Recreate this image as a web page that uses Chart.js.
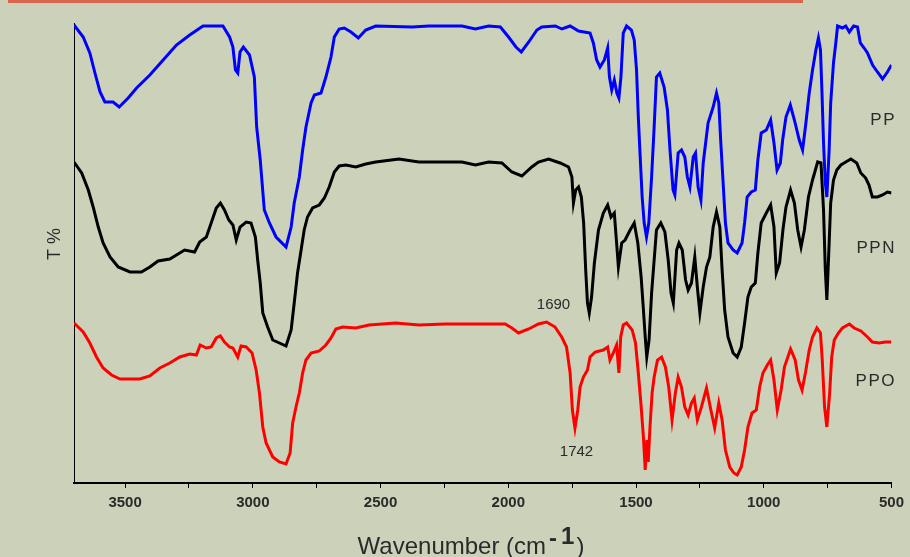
<!DOCTYPE html>
<html>
<head>
<meta charset="utf-8">
<script src="https://cdn.jsdelivr.net/npm/chart.js@4.4.1/dist/chart.umd.min.js"></script>
<style>
  html, body { margin: 0; padding: 0; background: #ccd1b9; }
  #wrap { position: relative; width: 910px; height: 557px; }
  #topbar { position: absolute; left: 8px; top: 0; width: 795px; height: 3px; background: #d9664c; }
  canvas { position: absolute; left: 0; top: 0; }
</style>
</head>
<body>
<div id="wrap">
  <canvas id="c" width="910" height="557"></canvas>
  <div id="topbar"></div>
</div>
<script>
// Tick labels on the wavenumber axis (minor ticks halfway between)
const majorTicks = [3500, 3000, 2500, 2000, 1500, 1000, 500];
const minorTicks = [3250, 2750, 2250, 1750, 1250, 750];
const seriesNames = ["PP", "PPN", "PPO"];
const peakLabels = ["1690", "1742"];

// PP (blue)
const ppWn = [3700,3664,3638,3618,3598,3579,3547,3523,3488,3455,3403,3351,3299,3247,3195,3117,3091,3078,3068,3059,3050,3037,3013,2994,2985,2971,2955,2935,2909,2870,2850,2838,2818,2805,2792,2772,2759,2733,2714,2694,2681,2662,2642,2616,2587,2558,2519,2376,2311,2181,2129,2077,2031,1999,1970,1949,1920,1888,1869,1816,1790,1758,1725,1680,1667,1654,1641,1624,1611,1604,1595,1585,1575,1567,1559,1550,1537,1518,1507,1498,1491,1485,1476,1468,1459,1450,1439,1429,1420,1407,1390,1377,1367,1355,1348,1335,1322,1309,1299,1289,1276,1267,1257,1246,1237,1218,1198,1185,1176,1168,1159,1150,1140,1120,1104,1085,1075,1065,1049,1033,1023,1010,990,973,960,948,935,926,913,896,880,861,848,835,822,809,796,786,778,772,766,759,753,744,738,727,718,711,692,679,665,648,633,622,607,594,574,555,535,516,500];
const ppT = [45.8,44.6,43.0,41.0,39.1,38.1,38.1,37.6,38.5,39.5,40.8,42.3,43.8,44.8,45.7,45.7,44.6,43.6,41.3,41.0,43.1,43.6,42.8,40.6,35.6,32.3,27.3,26.0,24.6,23.6,25.6,28.0,30.6,33.3,35.6,38.0,38.8,39.0,40.6,42.6,44.6,45.4,45.5,45.1,44.5,45.3,45.7,45.6,45.7,45.7,45.4,45.7,45.6,44.6,43.6,43.1,44.1,45.3,45.6,45.7,45.4,45.7,45.2,45.0,44.0,42.3,41.6,42.3,43.5,40.6,39.3,40.3,39.0,38.5,40.6,45.0,45.7,45.3,44.3,41.3,36.6,33.3,28.6,26.0,24.6,26.0,30.6,35.6,40.6,41.0,39.6,37.3,33.3,29.3,28.8,33.0,33.3,32.6,30.6,29.6,32.6,33.0,29.6,28.3,32.0,36.0,37.6,39.0,38.0,34.0,30.0,26.0,24.0,23.3,23.0,24.0,26.0,28.6,29.1,29.3,32.3,35.0,35.3,36.3,34.0,31.3,32.0,34.3,36.6,37.8,36.3,34.3,33.3,36.0,39.0,41.3,43.3,44.5,43.3,39.0,34.0,30.0,28.6,33.3,38.0,42.0,44.0,45.7,45.5,45.7,45.1,45.7,45.6,44.0,43.5,43.0,41.8,41.1,40.4,41.1,41.8];

// PPN (black)
const ppnWn = [3700,3670,3644,3625,3605,3586,3559,3527,3481,3436,3403,3371,3325,3299,3267,3228,3208,3182,3163,3143,3127,3111,3094,3078,3065,3050,3026,3007,2990,2981,2971,2961,2942,2922,2896,2870,2850,2838,2825,2811,2799,2786,2766,2740,2720,2701,2681,2662,2636,2597,2558,2519,2428,2350,2181,2129,2077,2025,1986,1947,1908,1882,1842,1797,1764,1751,1745,1736,1725,1714,1705,1697,1690,1683,1674,1663,1647,1628,1611,1598,1585,1576,1569,1556,1543,1523,1507,1493,1480,1471,1464,1458,1449,1439,1426,1420,1403,1387,1374,1363,1354,1341,1332,1319,1306,1296,1283,1270,1260,1250,1237,1224,1211,1198,1185,1172,1163,1153,1140,1120,1104,1088,1075,1062,1049,1033,1023,1010,990,973,960,951,938,925,913,895,880,867,854,841,825,809,789,776,766,759,753,744,738,727,714,698,679,659,636,620,601,588,575,555,535,516,500];
const ppnT = [32.1,31.0,29.3,27.6,25.6,24.0,22.6,21.6,21.1,21.1,21.6,22.2,22.4,22.8,23.3,23.1,24.1,24.6,26.0,27.5,28.0,27.3,26.3,25.8,24.3,25.6,26.1,26.0,24.6,22.3,20.0,17.0,15.6,14.3,14.0,13.7,15.3,18.0,21.0,23.3,25.3,26.6,27.5,27.8,28.5,29.6,31.1,31.7,31.8,31.6,31.9,32.1,32.4,32.1,32.1,31.8,32.1,32.0,31.1,30.7,31.6,32.1,32.4,32.0,31.6,30.6,28.0,29.3,29.6,28.6,26.0,21.3,18.0,17.0,18.6,22.0,25.3,27.0,27.8,26.6,27.0,24.0,21.6,24.0,24.3,25.3,26.0,24.0,20.6,17.3,14.6,12.6,14.3,19.0,23.3,25.3,26.0,25.1,22.3,19.0,18.0,23.3,24.0,23.3,20.3,19.3,20.0,22.6,19.6,17.0,19.6,21.6,22.6,25.6,27.1,25.6,21.3,17.3,14.6,13.0,12.6,13.6,16.0,18.6,19.6,20.0,23.0,26.0,27.0,27.8,25.6,21.0,22.0,25.3,27.6,29.3,28.0,25.3,23.6,25.3,28.6,30.3,32.1,32.0,27.3,21.3,18.3,24.0,28.0,30.3,31.3,31.8,32.1,32.4,32.0,31.0,30.5,29.8,28.6,28.6,28.8,29.1,29.0];

// PPO (red)
const ppoWn = [3700,3664,3638,3612,3586,3553,3520,3442,3403,3364,3325,3286,3247,3221,3206,3182,3163,3143,3127,3111,3091,3078,3059,3046,3026,3003,2987,2974,2961,2948,2922,2896,2870,2854,2844,2831,2818,2805,2792,2772,2740,2714,2694,2675,2649,2597,2545,2441,2350,2246,2012,1986,1960,1920,1882,1850,1817,1791,1772,1758,1749,1739,1728,1719,1706,1690,1680,1660,1628,1611,1602,1589,1576,1567,1560,1550,1537,1515,1502,1492,1481,1471,1464,1457,1452,1446,1437,1429,1416,1400,1385,1372,1359,1346,1335,1322,1309,1296,1283,1272,1260,1244,1224,1207,1192,1176,1163,1150,1133,1117,1104,1088,1075,1062,1046,1029,1016,1003,986,973,960,947,932,919,895,877,864,850,837,822,809,792,778,771,762,753,742,734,724,708,692,665,646,620,594,575,549,523,500];
const ppoT = [16.0,15.1,14.0,12.6,11.5,10.8,10.4,10.4,10.7,11.5,12.0,12.6,12.9,12.8,13.8,13.5,13.6,14.5,14.7,14.1,13.6,13.5,12.6,13.7,13.6,13.0,11.3,9.0,5.6,4.0,2.6,2.1,1.9,3.0,6.0,7.6,9.0,11.0,12.3,13.0,13.2,13.8,14.5,15.4,15.6,15.5,15.8,16.0,15.8,15.9,15.9,15.5,15.0,15.4,15.9,16.1,15.6,14.6,13.6,11.0,7.3,5.5,7.3,9.6,10.6,11.3,12.6,13.1,13.3,13.6,12.3,13.0,13.8,11.0,14.6,15.8,16.0,15.3,14.0,11.3,8.0,4.6,1.3,4.3,2.1,5.3,9.0,10.6,12.3,12.6,11.6,9.6,6.3,9.0,10.6,9.6,7.6,6.8,8.0,8.5,6.3,7.6,9.5,7.3,5.5,8.0,6.3,3.3,1.6,1.0,0.8,1.6,3.3,5.6,7.0,7.3,9.6,11.0,11.8,12.3,10.3,7.3,9.3,11.6,13.4,12.3,10.3,9.3,11.0,13.3,14.6,15.5,15.0,12.3,7.6,5.6,9.0,12.6,14.3,15.0,15.5,15.9,15.5,15.2,14.6,14.1,14.0,14.1,14.1];

function pts(wn, t) { return wn.map((w, i) => ({ x: w, y: t[i] })); }

const FONT = '"Liberation Sans", Arial, sans-serif';

const textPlugin = {
  id: 'texts',
  afterDraw(chart) {
    const ctx = chart.ctx;
    const a = chart.chartArea;
    const xs = chart.scales.x, ys = chart.scales.y;
    ctx.save();
    ctx.fillStyle = '#2a2a2a';
    ctx.textBaseline = 'middle';
    // series labels, right aligned with slight letter spacing
    ctx.font = '17px ' + FONT;
    ctx.textAlign = 'right';
    const lab = (s, y) => {
      let x = a.right + 3;
      for (const ch of s.split('').reverse()) { ctx.fillText(ch, x, y); x -= ctx.measureText(ch).width + 1.5; }
    };
    lab(seriesNames[0], ys.getPixelForValue(36.3));
    lab(seriesNames[1], ys.getPixelForValue(23.5));
    lab(seriesNames[2], ys.getPixelForValue(10.2));
    // peak labels
    ctx.font = '15px ' + FONT;
    ctx.textAlign = 'center';
    ctx.fillText(peakLabels[0], xs.getPixelForValue(1823), ys.getPixelForValue(17.8));
    ctx.fillText(peakLabels[1], xs.getPixelForValue(1733), ys.getPixelForValue(3.1));
    // y title
    ctx.save();
    ctx.translate(55, 244);
    ctx.rotate(-Math.PI / 2);
    ctx.font = '18px ' + FONT;
    ctx.textAlign = 'center';
    ctx.fillText('T %', 0, 0);
    ctx.restore();
    // x title with superscript
    ctx.textAlign = 'left';
    const t1 = 'Wavenumber (cm', t2 = '-', t2b = '1', t3 = ')';
    const f1 = '24px ' + FONT, f2 = 'bold 24px ' + FONT;
    ctx.font = f1; const w1 = ctx.measureText(t1).width; const w3 = ctx.measureText(t3).width;
    ctx.font = f2; const w2 = ctx.measureText(t2).width; const w2b = ctx.measureText(t2b).width;
    const total = w1 + 3 + w2 + 4 + w2b + 2 + w3;
    let x0 = 471 - total / 2;
    ctx.font = f1; ctx.fillText(t1, x0, 547);
    ctx.font = f2;
    ctx.fillText(t2, x0 + w1 + 3, 539);
    ctx.fillText(t2b, x0 + w1 + 3 + w2 + 4, 537);
    ctx.font = f1; ctx.fillText(t3, x0 + w1 + 3 + w2 + 4 + w2b + 2, 547);
    ctx.restore();
  }
};

const ds = (label, data, color) => ({
  label, data, borderColor: color, borderWidth: 3, pointRadius: 0, tension: 0, fill: false
});

new Chart(document.getElementById('c'), {
  type: 'line',
  data: {
    datasets: [
      ds(seriesNames[0], pts(ppWn, ppT), '#0000ff'),
      ds(seriesNames[1], pts(ppnWn, ppnT), '#000000'),
      ds(seriesNames[2], pts(ppoWn, ppoT), '#ff0000')
    ]
  },
  options: {
    responsive: false,
    animation: false,
    layout: { padding: { top: 23, right: 16, left: 0, bottom: 0 } },
    plugins: { legend: { display: false }, tooltip: { enabled: false } },
    scales: {
      x: {
        type: 'linear',
        reverse: true,
        min: 500, max: 3700,
        afterBuildTicks(s) {
          s.ticks = majorTicks.concat(minorTicks).sort((p, q) => q - p).map(v => ({ value: v }));
        },
        afterFit(s) { s.height = 74; },
        ticks: {
          autoSkip: false,
          maxRotation: 0,
          minRotation: 0,
          padding: 6,
          color: '#2a2a2a',
          font: { family: FONT, size: 15, weight: 'bold' },
          callback: v => majorTicks.includes(v) ? String(v) : ''
        },
        grid: { drawOnChartArea: false, drawTicks: true, tickLength: 5, color: '#000', lineWidth: 1 },
        border: { display: true, color: '#000', width: 2 }
      },
      y: {
        min: 0, max: 46,
        afterFit(s) { s.width = 74; },
        ticks: { display: false },
        grid: { drawOnChartArea: false, drawTicks: false },
        border: { display: true, color: '#000', width: 1 }
      }
    }
  },
  plugins: [textPlugin]
});
</script>
</body>
</html>
